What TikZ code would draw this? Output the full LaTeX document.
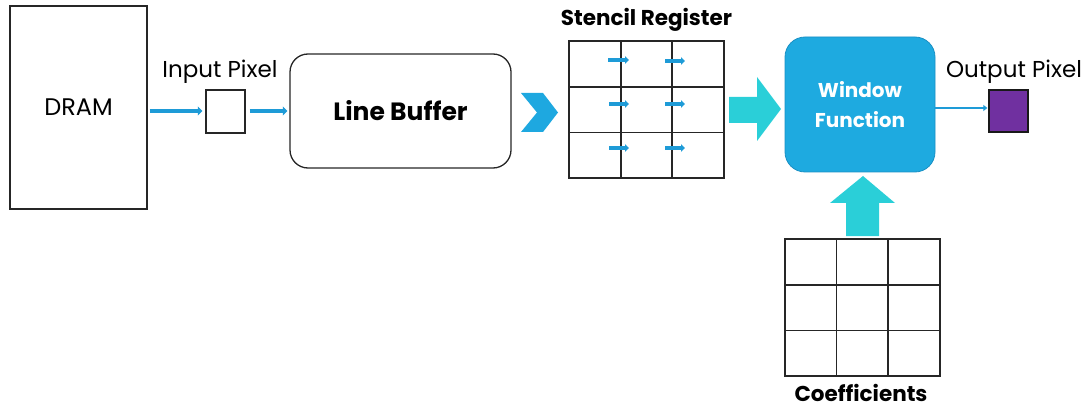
\documentclass[tikz,border=0pt]{standalone}
\usepackage{fontspec}
\setmainfont{Poppins}
\usetikzlibrary{arrows.meta}
\definecolor{flowblue}{HTML}{1E9BD7}
\definecolor{chevblue}{HTML}{1EA8E0}
\definecolor{wfblue}{HTML}{1EAAE0}
\definecolor{wfedge}{HTML}{1A90C4}
\definecolor{bigcyan}{HTML}{2ACFD8}
\definecolor{pixpurple}{HTML}{7030A0}
\tikzset{
  x=1pt, y=-1pt,
  box/.style={draw=black!85, line width=1.3pt},
  flow/.style={draw=flowblue, line width=4.5pt, -{Triangle[length=4.5pt,width=9pt]}, shorten >=1pt},
  thinflow/.style={draw=flowblue, line width=2pt, -{Triangle[length=4pt,width=6pt]}, shorten >=1pt},
  cellmove/.style={draw=flowblue, line width=3.8pt, -{Triangle[length=4pt,width=7.5pt]}},
  grid/.style={draw=black!85, line width=1.5pt},
  lbl/.style={font=\fontsize{23}{26}\selectfont, inner sep=0pt},
  blbl/.style={font=\bfseries\fontsize{21.5}{24}\selectfont, inner sep=0pt},
}
\begin{document}
\begin{tikzpicture}
\useasboundingbox (0,0) rectangle (1088,409);

% memory and input pixel
\node[box, minimum width=137pt, minimum height=203pt] (dram) at (78.5,107.5) {};
\node[font=\fontsize{24}{27}\selectfont, inner sep=0pt] at (dram.center) {DRAM};
\node[box, minimum width=39pt, minimum height=43pt] (inpix) at (225.5,111.5) {};
\node[lbl] (inlbl) at (220,72) {Input Pixel};

% line buffer
\node[box, rounded corners=18pt, minimum width=221pt, minimum height=114pt] (lb) at (400.5,111) {};
\node[font=\bfseries\fontsize{25}{28}\selectfont, inner sep=0pt] at (lb.center) {Line Buffer};

\draw[flow, shorten <=2pt, shorten >=3pt] (dram.east |- 0,111) -- (inpix.west |- 0,111);
\draw[flow, shorten <=4pt, shorten >=2pt] (inpix.east |- 0,111) -- (lb.west |- 0,111);

% chevron into the stencil register
\fill[chevblue] (521,93) -- (543,93) -- (558,112.5) -- (543,132) -- (521,132) -- (537,112.5) -- cycle;

% stencil register 3x3
\draw[grid] (569,41) rectangle (724,178);
\draw[grid] (621,41) -- (621,178) (672,41) -- (672,178);
\draw[grid] (569,87) -- (724,87) (569,132.5) -- (724,132.5);
\node[blbl] (sr) at (646.5,20) {Stencil Register};
\coordinate (sa1) at (608,60);  \coordinate (sb1) at (629,60);
\coordinate (sa2) at (609,104); \coordinate (sb2) at (629,104);
\coordinate (sa3) at (609,148); \coordinate (sb3) at (629,148);
\coordinate (sc1) at (665,61);  \coordinate (sd1) at (685,61);
\coordinate (sc2) at (665,104); \coordinate (sd2) at (685,104);
\coordinate (sc3) at (665,148); \coordinate (sd3) at (685,148);
\foreach \i in {1,2,3} {
  \draw[cellmove] (sa\i) -- (sb\i);
  \draw[cellmove] (sc\i) -- (sd\i);
}

% block arrow into the window function
\fill[bigcyan] (729,97) -- (757,97) -- (757,77) -- (781,109) -- (757,141) -- (757,123) -- (729,123) -- cycle;

% window function
\node[fill=wfblue, draw=wfedge, line width=0.8pt, rounded corners=20pt,
      minimum width=150pt, minimum height=135pt] (wf) at (860,104.5) {};
\node[font=\bfseries\fontsize{20}{30}\selectfont, text=white, align=center, inner sep=0pt]
  at (wf.center) {Window\\Function};

% output pixel
\node[draw=black!90, line width=1.3pt, fill=pixpurple, minimum width=39pt, minimum height=42pt] (outpix) at (1008.5,111) {};
\node[lbl] (outlbl) at (1014,72) {Output Pixel};
\draw[thinflow] (wf.east |- 0,108) -- (outpix.west |- 0,108);

% coefficients 3x3 and block arrow up
\fill[bigcyan] (846,236) -- (846,203) -- (830,203) -- (863,176) -- (895,203) -- (879,203) -- (879,236) -- cycle;
\draw[grid] (785,239) rectangle (940,376);
\draw[grid] (836.5,239) -- (836.5,376) (888,239) -- (888,376);
\draw[grid] (785,285) -- (940,285) (785,330.5) -- (940,330.5);
\node[blbl] (coef) at (861,393) {Coefficients};
\end{tikzpicture}
\end{document}
